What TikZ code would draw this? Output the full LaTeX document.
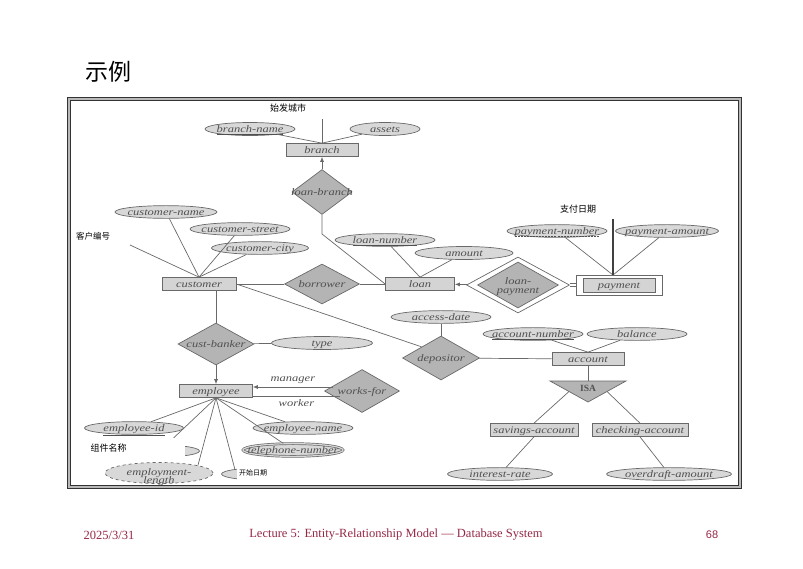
\documentclass[tikz,border=0pt]{standalone}
\usepackage{fontspec}
\usetikzlibrary{shapes.geometric,arrows.meta}

\newfontfamily\erfont[FakeStretch=1.25]{Liberation Serif}
\newfontfamily\cjk{Noto Sans CJK SC}
\newfontfamily\footfont{Liberation Serif}
\newfontfamily\numfont{Liberation Sans}
\newcommand{\erit}{\erfont\itshape\fontsize{10}{10}\selectfont}
\newcommand{\tx}[1]{\makebox[0pt]{#1}}
\newcommand{\txtwo}[2]{\smash{\raisebox{-3.5pt}{\makebox[0pt]{\begin{tabular}{@{}c@{}}#1\\[-1.5pt]#2\end{tabular}}}}}
\newcommand{\dashul}[1]{\setbox0\hbox{#1}\rlap{\raisebox{-1.8pt}{\hbox to \wd0{\xleaders\hbox to 3pt{\hss\vrule width 2pt height 0.4pt\hss}\hfill}}}\box0}

\definecolor{attrfill}{RGB}{216,216,216}
\definecolor{entfill}{RGB}{212,212,212}
\definecolor{relfill}{RGB}{180,180,180}
\definecolor{erline}{RGB}{105,105,105}
\definecolor{ertext}{RGB}{80,80,80}
\definecolor{footred}{RGB}{150,40,70}

\begin{document}
\begin{tikzpicture}[x=1pt, y=-1pt, line width=0.7pt, >={Latex[length=5pt,width=4pt]},
    erbase/.style={draw=erline, inner sep=0pt, text height=8pt, text depth=1pt, font=\erit, text=ertext},
    ent/.style={erbase, rectangle, fill=entfill, minimum height=13},
    rel/.style={erbase, diamond, fill=relfill},
    attr/.style={erbase, ellipse, fill=attrfill, minimum height=12},
    conn/.style={draw=erline},
    cnote/.style={font=\cjk\fontsize{9}{9}\selectfont, inner sep=1pt}]
  \useasboundingbox (0,0) rectangle (803,568);

  % Title and frame
  \node[anchor=west, font=\cjk\fontsize{23}{23}\selectfont] (title) at (82,72) {示例};
  \draw[draw=black!80, double=gray!55, line width=1pt, double distance=2pt] (69,99) rectangle (740,487);

  % Entities
  \node[ent, minimum width=72] (branch) at (322,150) {\tx{branch}};
  \node[ent, minimum width=74] (customer) at (199,284) {\tx{customer}};
  \node[ent, minimum width=69] (loan) at (420,284) {\tx{loan}};
  \node[ent, fill=white, minimum width=86, minimum height=20] (payo) at (619,285) {};
  \node[ent, minimum width=72, minimum height=14] (payment) at (619,285) {\tx{payment}};
  \node[ent, minimum width=73] (employee) at (216,391) {\tx{employee}};
  \node[ent, minimum width=72] (account) at (588,359) {\tx{account}};
  \node[ent, minimum width=88] (savings) at (534,430) {\tx{savings-account}};
  \node[ent, minimum width=96] (checking) at (640,430) {\tx{checking-account}};

  % Relationships
  \node[rel, minimum width=60, minimum height=45] (lb) at (322,192) {\tx{loan-branch}};
  \node[rel, minimum width=75, minimum height=40] (borrower) at (322,284) {\tx{borrower}};
  \node[rel, fill=white, minimum width=103, minimum height=56] (lpo) at (518,285) {};
  \node[rel, minimum width=81, minimum height=46] (lp) at (518,285) {\raisebox{2.5pt}{\txtwo{loan-}{payment}}};
  \node[rel, minimum width=76, minimum height=42] (cb) at (216,344) {\tx{cust-banker}};
  \node[rel, minimum width=75, minimum height=43] (wf) at (362,391) {\tx{works-for}};
  \node[rel, minimum width=77, minimum height=44] (dep) at (441,358) {\tx{depositor}};

  % Attributes
  \node[attr, minimum width=90, minimum height=13] (bname) at (250,129) {\tx{\underline{branch-name}}};
  \node[attr, minimum width=70, minimum height=13] (assets) at (385,129) {\tx{assets}};
  \node[attr, minimum width=102, minimum height=11] (cname) at (166,212) {\tx{customer-name}};
  \node[attr, minimum width=100, minimum height=11] (cstreet) at (240,229) {\tx{customer-street}};
  \node[attr, minimum width=97, minimum height=11] (ccity) at (260,248) {\tx{customer-city}};
  \node[attr, minimum width=100] (lnum) at (385,240) {\tx{\underline{loan-number}}};
  \node[attr, minimum width=98, minimum height=13] (amount) at (464,253) {\tx{amount}};
  \node[attr, minimum width=100] (pnum) at (557,231) {\tx{\dashul{payment-number}}};
  \node[attr, minimum width=103] (pamt) at (667,231) {\tx{payment-amount}};
  \node[attr, minimum width=101, minimum height=13] (type) at (322,343) {\tx{type}};
  \node[attr, minimum width=99] (eid) at (134,428) {\tx{\underline{employee-id}}};
  \node[attr, minimum width=100] (ename) at (303,428) {\tx{employee-name}};
  \node[attr, minimum width=100, double=attrfill, double distance=1.2pt] (tel) at (293,450) {\tx{telephone-number}};
  \node[attr, minimum width=95, minimum height=13] (hidA) at (152,451) {};
  \node[attr, minimum width=95, minimum height=13] (hidB) at (269,474) {};
  \node[attr, minimum width=108, minimum height=21, dashed] (elen) at (159,473) {\txtwo{employment-}{length}};
  \node[attr, minimum width=100] (access) at (441,317) {\tx{access-date}};
  \node[attr, minimum width=100] (anum) at (533,334) {\tx{\underline{account-number}}};
  \node[attr, minimum width=100] (balance) at (637,334) {\tx{balance}};
  \node[attr, minimum width=105] (irate) at (500,474) {\tx{interest-rate}};
  \node[attr, minimum width=125] (odamt) at (669,474) {\tx{overdraft-amount}};

  % ISA triangle
  \coordinate (isaL) at (550,381);
  \coordinate (isaR) at (626,381);
  \coordinate (isaB) at (588,402);
  \coordinate (isaT) at (588,381);
  \coordinate (isaSL) at (569,391.5);
  \coordinate (isaSR) at (607,391.5);
  \draw[conn, fill=relfill] (isaL) -- (isaR) -- (isaB) -- cycle;
  \node[font=\footfont\bfseries\fontsize{9.5}{9.5}\selectfont, text=ertext] (isa) at (588,388.5) {ISA};

  % Free ends
  \coordinate (bhid) at (322,119);
  \coordinate (chid) at (130,245);
  \coordinate (phid) at (613,219);
  \coordinate (ptop) at (613,275);
  \coordinate (lbk) at (322,234);
  \coordinate (mgr) at (333,387);
  \coordinate (wkr) at (340,396);

  % Connectors
  \draw[conn] (bname) -- (branch.north);
  \draw[conn] (assets) -- (branch.north);
  \draw[conn] (branch.north) -- (bhid);
  \draw[conn, ->] (lb) -- (branch);
  \draw[conn] (lb.south) -- (lbk) -- (loan.west);
  \draw[conn] (cname) -- (customer.north);
  \draw[conn] (cstreet) -- (customer.north);
  \draw[conn] (ccity) -- (customer.north);
  \draw[conn] (chid) -- (customer.north);
  \draw[conn] (customer.east) -- (borrower);
  \draw[conn] (borrower) -- (loan);
  \draw[conn] (customer.east) -- (dep.north west);
  \draw[conn] (lnum) -- (loan.north);
  \draw[conn] (amount) -- (loan.north);
  \draw[conn, ->] (lpo) -- (loan);
  \draw[conn, double=white, double distance=2pt] (lpo) -- (payo);
  \draw[conn] (pnum) -- (ptop);
  \draw[conn] (pamt) -- (ptop);
  \draw[draw=black!75, line width=1.6pt] (ptop) -- (phid);
  \draw[conn] (cb |- customer.south) -- (cb);
  \draw[conn] (cb) -- (type);
  \draw[conn, ->] (cb) -- (employee);
  \draw[conn, ->] (mgr) -- (mgr -| employee.east) node[midway, above, font=\erit, text=ertext] {manager};
  \draw[conn] (wkr) -- (wkr -| employee.east) node[midway, below, font=\erit, text=ertext] {worker};
  \draw[conn] (employee.south) -- (eid);
  \draw[conn] (employee.south) -- (ename);
  \draw[conn] (employee.south) -- (tel);
  \draw[conn] (employee.south) -- (hidA.24);
  \draw[conn] (employee.south) -- (elen.11);
  \draw[conn] (employee.south) -- (hidB.172);
  \draw[conn] (access) -- (dep);
  \draw[conn] (dep) -- (account);
  \draw[conn] (anum) -- (account.north);
  \draw[conn] (balance) -- (account.north);
  \draw[conn] (account) -- (isaT);
  \draw[conn] (isaSL) -- (savings.north);
  \draw[conn] (isaSR) -- (checking.north);
  \draw[conn] (savings.south) -- (irate);
  \draw[conn] (checking.south) -- (odamt);

  % Chinese notes
  \node[cnote, fill=white] (nbranch) at (288,108) {始发城市};
  \node[cnote, font=\cjk\fontsize{8.5}{8.5}\selectfont] (ncust) at (93,236) {客户编号};
  \node[cnote] (npay) at (578,209) {支付日期};
  \node[cnote, fill=white, minimum width=97, minimum height=21, text width=91, align=left] (ncomp) at (136,448) {组件名称};
  \node[cnote, fill=white, minimum width=90, minimum height=19, text width=86, align=left, font=\cjk\fontsize{7}{7}\selectfont] (nstart) at (282,472.5) {开始日期};

  % Footer
  \node[anchor=west, font=\footfont\fontsize{12.5}{12.5}\selectfont, text=footred] (fdate) at (80,535) {2025/3/31};
  \node[font=\footfont\fontsize{12.5}{12.5}\selectfont, text=footred] (ftitle) at (396,535) {Lecture 5: Entity-Relationship Model — Database System};
  \node[font=\numfont\fontsize{11}{11}\selectfont, text=footred] (fpage) at (712,535) {68};
\end{tikzpicture}
\end{document}
